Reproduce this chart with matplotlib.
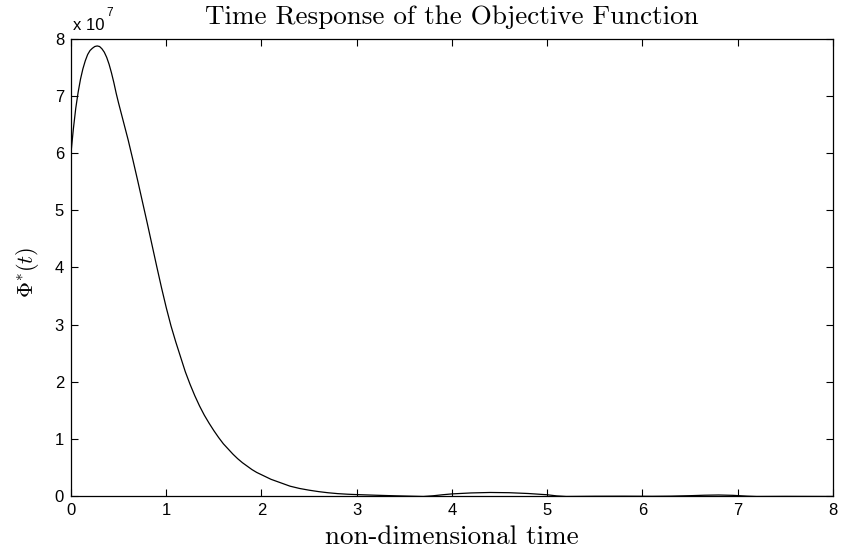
import numpy as np
import matplotlib
matplotlib.use("Agg")
import matplotlib.pyplot as plt

# sampled time response of the objective function (values in units of 1e7)
t = [0.0, 0.025, 0.05, 0.075, 0.1, 0.125, 0.15, 0.175, 0.2, 0.225, 0.25,
     0.275, 0.3, 0.325, 0.35, 0.375, 0.4, 0.425, 0.45, 0.475, 0.5, 0.55,
     0.6, 0.65, 0.7, 0.75, 0.8, 0.85, 0.9, 0.95, 1.0, 1.05, 1.1, 1.15, 1.2,
     1.25, 1.3, 1.35, 1.4, 1.45, 1.5, 1.55, 1.6, 1.65, 1.7, 1.75, 1.8, 1.85,
     1.9, 1.95, 2.0, 2.1, 2.2, 2.3, 2.4, 2.5, 2.6, 2.7, 2.8, 2.9, 3.0, 3.2,
     3.4, 3.6, 3.7, 3.8, 3.9, 4.0, 4.2, 4.4, 4.6, 4.8, 5.0, 5.1, 5.2, 5.5,
     5.8, 6.1, 6.3, 6.5, 6.65, 6.8, 6.95, 7.1, 7.2, 7.5, 8.0]
phi = [6.0, 6.42, 6.78, 7.06, 7.29, 7.47, 7.61, 7.72, 7.79, 7.83, 7.86,
       7.87, 7.86, 7.82, 7.76, 7.67, 7.55, 7.40, 7.23, 7.04, 6.87, 6.55,
       6.23, 5.88, 5.52, 5.15, 4.78, 4.40, 4.02, 3.65, 3.30, 2.98, 2.70,
       2.44, 2.18, 1.96, 1.76, 1.58, 1.42, 1.28, 1.15, 1.03, 0.92, 0.83,
       0.74, 0.66, 0.59, 0.53, 0.47, 0.42, 0.38, 0.30, 0.24, 0.18, 0.14,
       0.11, 0.085, 0.065, 0.05, 0.04, 0.033, 0.022, 0.012, 0.004, 0.0,
       0.012, 0.03, 0.045, 0.062, 0.07, 0.066, 0.052, 0.03, 0.01, 0.0,
       0.004, 0.005, 0.003, 0.006, 0.014, 0.022, 0.026, 0.02, 0.006, 0.0,
       0.002, 0.0]
scale = 1e7
xticks = [0, 1, 2, 3, 4, 5, 6, 7, 8]
yticks = [0, 1, 2, 3, 4, 5, 6, 7, 8]

plt.rcParams['mathtext.fontset'] = 'cm'
plt.rcParams['font.family'] = ['Liberation Sans', 'DejaVu Sans']

fig = plt.figure(figsize=(8.42, 5.5), dpi=100)
ax = fig.add_axes([0.0843, 0.0973, 0.905, 0.8327])

ax.plot(t, np.array(phi) * scale, color='black', lw=0.9)

ax.set_xlim(0, 8)
ax.set_ylim(0, 8 * scale)
ax.set_xticks(xticks)
ax.set_yticks([v * scale for v in yticks])
ax.set_xticklabels([str(v) for v in xticks])
ax.set_yticklabels([str(v) for v in yticks])
ax.tick_params(direction='in', length=5, width=0.8, labelsize=12,
               top=True, right=True, pad=5)
for s in ax.spines.values():
    s.set_linewidth(0.9)

# exponent label above the y axis
ax.text(0.002, 1.012, 'x 10', transform=ax.transAxes, fontsize=12,
        ha='left', va='bottom')
ax.text(0.046, 1.042, '7', transform=ax.transAxes, fontsize=8.5,
        ha='left', va='bottom')

ax.set_title('Time Response of the Objective Function', fontfamily='cmr10',
             fontsize=19.5, pad=10.5)
ax.set_xlabel('non-dimensional time', fontfamily='cmr10', fontsize=19.5,
              va='baseline')
ax.xaxis.set_label_coords(0.5, -0.1035)
ax.set_ylabel(r'$\Phi^{*}(t)$', fontsize=16)
ax.yaxis.set_label_coords(-0.04, 0.49)

fig.savefig('out.png', dpi=100)
